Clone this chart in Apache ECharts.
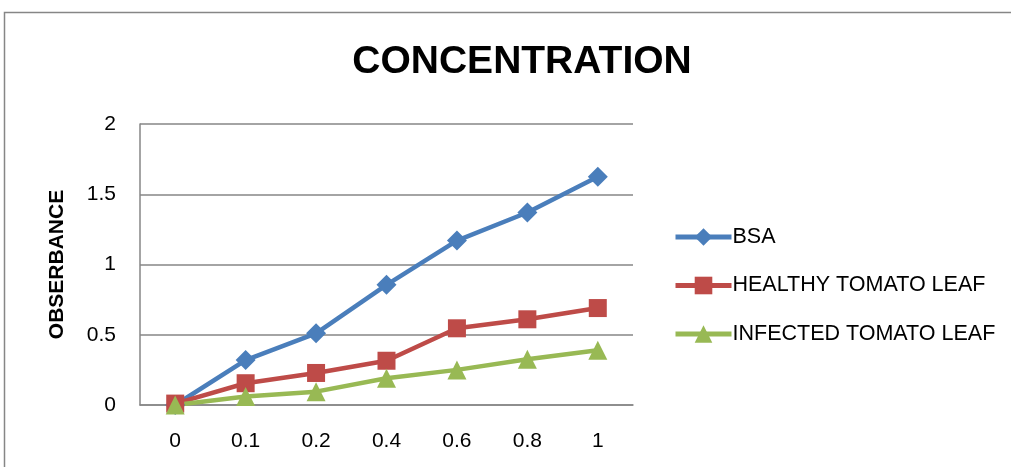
<!DOCTYPE html>
<html>
<head>
<meta charset="utf-8">
<script src="https://cdn.jsdelivr.net/npm/echarts@6/dist/echarts.min.js"></script>
<style>
  html, body { margin: 0; padding: 0; background: #fff; }
  #chart { width: 1011px; height: 467px; }
</style>
</head>
<body>
<div id="chart"></div>
<script>
const categories = ['0', '0.1', '0.2', '0.4', '0.6', '0.8', '1'];
const bsa = [0, 0.32, 0.51, 0.855, 1.17, 1.37, 1.625];
const healthy = [0.01, 0.155, 0.228, 0.315, 0.546, 0.61, 0.69];
const infected = [0, 0.06, 0.095, 0.19, 0.25, 0.325, 0.39];

const font = "'Liberation Sans', Arial, sans-serif";

const chart = echarts.init(document.getElementById('chart'));

const mkSeries = (name, data, color, symbol, size) => ({
    name,
    type: 'line',
    data,
    symbol,
    symbolSize: size,
    showSymbol: true,
    lineStyle: { color, width: 4.5 },
    itemStyle: { color },
    emphasis: { disabled: true },
    animation: false
});

chart.setOption({
    animation: false,
    graphic: [{
        type: 'rect',
        shape: { x: 4.5, y: 12.5, width: 1030, height: 480 },
        style: { fill: 'none', stroke: '#868686', lineWidth: 1.5 },
        silent: true
    }],
    title: {
        text: 'CONCENTRATION',
        left: 517,
        textAlign: 'center',
        top: 38,
        textStyle: { fontFamily: font, fontSize: 39, fontWeight: 'bold', color: '#000' }
    },
    legend: {
        orient: 'vertical',
        left: 668,
        top: 221,
        itemWidth: 56,
        itemHeight: 22,
        itemGap: 26.5,
        lineStyle: { width: 5 },
        textStyle: { fontFamily: font, fontSize: 21.5, color: '#000', padding: [0, 0, 0, -4] },
        data: ['BSA', 'HEALTHY TOMATO LEAF', 'INFECTED TOMATO LEAF']
    },
    grid: { left: 140, right: 378, top: 124, bottom: 62 },
    xAxis: {
        type: 'category',
        data: categories,
        boundaryGap: true,
        axisLine: { lineStyle: { color: '#868686', width: 1.5 } },
        axisTick: { show: false },
        axisLabel: { fontFamily: font, fontSize: 21, color: '#000', margin: 26 }
    },
    yAxis: {
        type: 'value',
        min: 0,
        max: 2,
        interval: 0.5,
        name: 'OBSERBANCE',
        nameLocation: 'middle',
        nameGap: 72,
        nameRotate: 90,
        nameTextStyle: { fontFamily: font, fontSize: 21, fontWeight: 'bold', color: '#000' },
        axisLine: { show: true, lineStyle: { color: '#868686', width: 1.5 } },
        axisTick: { show: false },
        splitLine: { lineStyle: { color: '#868686', width: 1.5 } },
        axisLabel: { fontFamily: font, fontSize: 21, color: '#000', margin: 24 }
    },
    series: [
        mkSeries('BSA', bsa, '#4a7ebb', 'diamond', 20),
        mkSeries('HEALTHY TOMATO LEAF', healthy, '#be4b48', 'rect', 18),
        mkSeries('INFECTED TOMATO LEAF', infected, '#98b954', 'triangle', 19)
    ]
});
</script>
</body>
</html>
